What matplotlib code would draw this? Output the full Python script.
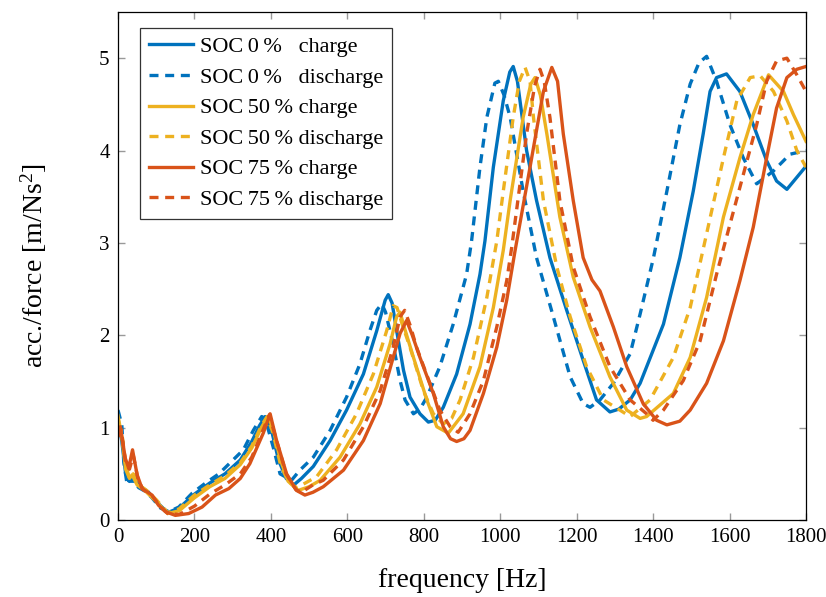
import numpy as np
import matplotlib
matplotlib.use("Agg")
import matplotlib.pyplot as plt
from matplotlib.ticker import MultipleLocator

plt.rcParams['font.family'] = ['Liberation Serif', 'DejaVu Serif']
plt.rcParams['mathtext.fontset'] = 'custom'
plt.rcParams['mathtext.rm'] = 'Liberation Serif'
plt.rcParams['mathtext.it'] = 'Liberation Serif:italic'

# SOC 0 % charge
f_soc0_c = [0, 10, 20, 30, 45, 60, 80, 100, 130, 160, 200, 240, 280, 320, 350, 370, 385, 400, 420,
            440, 460, 480, 511, 555, 598, 642, 677, 699, 707, 717, 729, 747, 764, 790, 812, 830,
            851, 886, 921, 947, 960, 982, 1008, 1025, 1034, 1045, 1069, 1095, 1130, 1174, 1217,
            1252, 1287, 1310, 1340, 1366, 1427, 1470, 1505, 1531, 1549, 1566, 1592, 1627, 1662,
            1697, 1723, 1750, 1776, 1800]
a_soc0_c = [1.10, 0.85, 0.50, 0.42, 0.42, 0.36, 0.30, 0.20, 0.08, 0.13, 0.28, 0.40, 0.50, 0.65, 0.85,
            1.02, 1.12, 1.00, 0.65, 0.45, 0.38, 0.45, 0.58, 0.86, 1.19, 1.58, 2.05, 2.38, 2.44, 2.35,
            2.05, 1.62, 1.33, 1.15, 1.06, 1.08, 1.22, 1.58, 2.12, 2.66, 3.02, 3.82, 4.54, 4.85, 4.91,
            4.75, 4.00, 3.46, 2.84, 2.27, 1.73, 1.30, 1.17, 1.20, 1.30, 1.48, 2.12, 2.84, 3.56, 4.18,
            4.64, 4.79, 4.83, 4.64, 4.28, 3.89, 3.67, 3.58, 3.71, 3.83]

# SOC 0 % discharge
f_soc0_d = [0, 10, 15, 24, 32, 40, 54, 72, 89, 111, 133, 159, 194, 229, 264, 301, 328, 354, 376,
            385, 406, 424, 454, 476, 511, 555, 598, 633, 659, 677, 690, 700, 720, 738, 751, 773,
            790, 808, 842, 877, 912, 925, 947, 965, 986, 995, 1010, 1026, 1060, 1095, 1139, 1183,
            1217, 1235, 1261, 1296, 1340, 1366, 1401, 1436, 1470, 1497, 1520, 1540, 1566, 1601,
            1636, 1671, 1715, 1758, 1800]
a_soc0_d = [1.19, 1.03, 0.63, 0.38, 0.45, 0.44, 0.35, 0.31, 0.24, 0.13, 0.09, 0.14, 0.29, 0.40, 0.50,
            0.65, 0.76, 0.97, 1.12, 1.10, 0.79, 0.50, 0.43, 0.54, 0.68, 0.97, 1.33, 1.69, 2.05, 2.27,
            2.34, 2.25, 1.90, 1.51, 1.30, 1.15, 1.20, 1.33, 1.66, 2.12, 2.66, 3.02, 3.82, 4.36, 4.73,
            4.75, 4.60, 4.36, 3.56, 2.84, 2.20, 1.55, 1.26, 1.22, 1.30, 1.48, 1.80, 2.23, 2.84, 3.56,
            4.28, 4.72, 4.95, 5.02, 4.75, 4.28, 3.92, 3.64, 3.78, 3.96, 4.00]

# SOC 50 % charge
f_soc50_c = [0, 10, 20, 30, 37, 50, 70, 100, 130, 160, 200, 240, 280, 320, 350, 375, 392, 405, 425,
             445, 471, 500, 529, 581, 633, 677, 712, 729, 738, 748, 773, 808, 834, 864, 903, 947,
             982, 1008, 1026, 1060, 1080, 1091, 1105, 1122, 1156, 1191, 1235, 1287, 1331, 1366,
             1383, 1453, 1497, 1540, 1584, 1627, 1662, 1702, 1741, 1767, 1800]
a_soc50_c = [1.13, 0.90, 0.55, 0.45, 0.49, 0.38, 0.32, 0.20, 0.07, 0.10, 0.24, 0.36, 0.45, 0.60, 0.78,
             1.00, 1.12, 1.00, 0.65, 0.42, 0.32, 0.36, 0.43, 0.68, 1.04, 1.44, 1.91, 2.20, 2.25, 2.10,
             1.76, 1.30, 1.01, 0.94, 1.15, 1.66, 2.30, 2.92, 3.46, 4.36, 4.72, 4.79, 4.60, 4.18, 3.28,
             2.63, 2.09, 1.55, 1.19, 1.10, 1.12, 1.37, 1.76, 2.41, 3.28, 3.92, 4.39, 4.82, 4.64, 4.39,
             4.10]

# SOC 50 % discharge
f_soc50_d = [0, 10, 20, 30, 40, 55, 75, 100, 130, 160, 200, 240, 280, 320, 350, 375, 390, 405, 425,
             445, 467, 490, 520, 572, 624, 668, 703, 720, 730, 745, 764, 799, 825, 851, 873, 895,
             930, 965, 991, 1008, 1034, 1050, 1065, 1078, 1087, 1113, 1148, 1183, 1226, 1270, 1313,
             1340, 1392, 1453, 1497, 1540, 1584, 1619, 1654, 1680, 1715, 1750, 1776, 1800]
a_soc50_d = [1.05, 0.95, 0.60, 0.45, 0.50, 0.38, 0.32, 0.22, 0.08, 0.12, 0.27, 0.38, 0.48, 0.62, 0.80,
             1.02, 1.12, 0.95, 0.60, 0.42, 0.35, 0.40, 0.47, 0.76, 1.15, 1.58, 2.05, 2.32, 2.30, 2.10,
             1.87, 1.40, 1.15, 1.04, 1.10, 1.30, 1.76, 2.41, 3.02, 3.56, 4.36, 4.75, 4.90, 4.75, 4.36,
             3.46, 2.74, 2.20, 1.66, 1.30, 1.19, 1.12, 1.30, 1.76, 2.30, 3.10, 3.92, 4.54, 4.79, 4.81,
             4.64, 4.32, 4.00, 3.82]

# SOC 75 % charge
f_soc75_c = [0, 6, 19, 28, 38, 50, 63, 89, 106, 124, 150, 185, 220, 255, 290, 320, 345, 380, 398,
             415, 441, 467, 489, 510, 537, 590, 642, 686, 720, 738, 755, 770, 790, 825, 851, 870,
             886, 905, 921, 956, 991, 1017, 1039, 1078, 1113, 1135, 1150, 1165, 1191, 1217, 1240,
             1261, 1296, 1331, 1374, 1409, 1436, 1470, 1497, 1540, 1584, 1627, 1662, 1697, 1723,
             1750, 1776, 1800]
a_soc75_c = [0.92, 1.01, 0.67, 0.56, 0.76, 0.49, 0.34, 0.27, 0.16, 0.09, 0.05, 0.07, 0.14, 0.27, 0.34,
             0.45, 0.61, 0.94, 1.15, 0.86, 0.50, 0.32, 0.27, 0.30, 0.36, 0.54, 0.86, 1.26, 1.76, 2.02,
             2.16, 2.00, 1.76, 1.37, 1.01, 0.88, 0.85, 0.88, 0.97, 1.37, 1.87, 2.38, 2.92, 3.82, 4.64,
             4.90, 4.75, 4.18, 3.46, 2.84, 2.60, 2.48, 2.09, 1.66, 1.26, 1.08, 1.03, 1.07, 1.19, 1.48,
             1.94, 2.59, 3.17, 3.92, 4.46, 4.79, 4.88, 4.91]

# SOC 75 % discharge
f_soc75_d = [0, 8, 20, 30, 40, 52, 65, 90, 110, 130, 160, 200, 240, 280, 320, 350, 380, 396, 412,
             440, 465, 480, 510, 537, 590, 642, 686, 720, 738, 750, 765, 781, 816, 842, 869, 890,
             921, 956, 991, 1017, 1030, 1069, 1090, 1104, 1115, 1130, 1156, 1191, 1235, 1287, 1340,
             1383, 1400, 1427, 1479, 1523, 1566, 1601, 1636, 1671, 1697, 1723, 1750, 1776, 1800]
a_soc75_d = [0.90, 0.98, 0.62, 0.55, 0.70, 0.45, 0.33, 0.26, 0.15, 0.07, 0.06, 0.15, 0.28, 0.38, 0.50,
             0.68, 0.98, 1.14, 0.90, 0.50, 0.33, 0.30, 0.38, 0.43, 0.65, 1.01, 1.40, 1.87, 2.20, 2.27,
             2.10, 1.87, 1.48, 1.19, 1.01, 0.95, 1.15, 1.51, 2.09, 2.59, 2.95, 4.18, 4.70, 4.88, 4.75,
             4.36, 3.46, 2.74, 2.20, 1.66, 1.30, 1.15, 1.08, 1.19, 1.51, 1.94, 2.66, 3.20, 3.74, 4.28,
             4.75, 4.97, 5.00, 4.82, 4.64]

blue = '#0072BD'
yellow = '#EDB120'
red = '#D95319'
dash = (0, (2.7, 2.0))

fig = plt.figure(figsize=(8.26, 5.97), dpi=100)
ax = fig.add_axes([118/826, 77/597, 688/826, 508/597])

lw = 2.4
ax.plot(f_soc0_c, a_soc0_c, color=blue, lw=lw, label='SOC\u20090\u2009%\u2002 charge')
ax.plot(f_soc0_d, a_soc0_d, color=blue, lw=lw, ls=dash, label='SOC\u20090\u2009%\u2002 discharge')
ax.plot(f_soc50_c, a_soc50_c, color=yellow, lw=lw, label='SOC\u200950\u2009% charge')
ax.plot(f_soc50_d, a_soc50_d, color=yellow, lw=lw, ls=dash, label='SOC\u200950\u2009% discharge')
ax.plot(f_soc75_c, a_soc75_c, color=red, lw=lw, label='SOC\u200975\u2009% charge')
ax.plot(f_soc75_d, a_soc75_d, color=red, lw=lw, ls=dash, label='SOC\u200975\u2009% discharge')

ax.set_xlim(0, 1800)
ax.set_ylim(0, 5.5)
ax.xaxis.set_major_locator(MultipleLocator(200))
ax.yaxis.set_major_locator(MultipleLocator(1))
ax.tick_params(direction='in', which='both', top=True, right=True, color='#999999',
               length=5, width=1, labelsize=15, pad=6)
for s in ax.spines.values():
    s.set_linewidth(0.9)

ax.set_xlabel('frequency [Hz]', fontsize=20, labelpad=15)
ax.set_ylabel('acc./force [m/Ns$^2$]', fontsize=20, labelpad=36)

leg = ax.legend(loc='upper left', bbox_to_anchor=(0.032, 0.969), fontsize=16, frameon=True,
                fancybox=False, edgecolor='black', handlelength=2.0, handletextpad=0.3,
                labelspacing=0.45, borderpad=0.4, borderaxespad=0.0)
leg.get_frame().set_linewidth(0.9)

fig.savefig('out.png', dpi=100)
